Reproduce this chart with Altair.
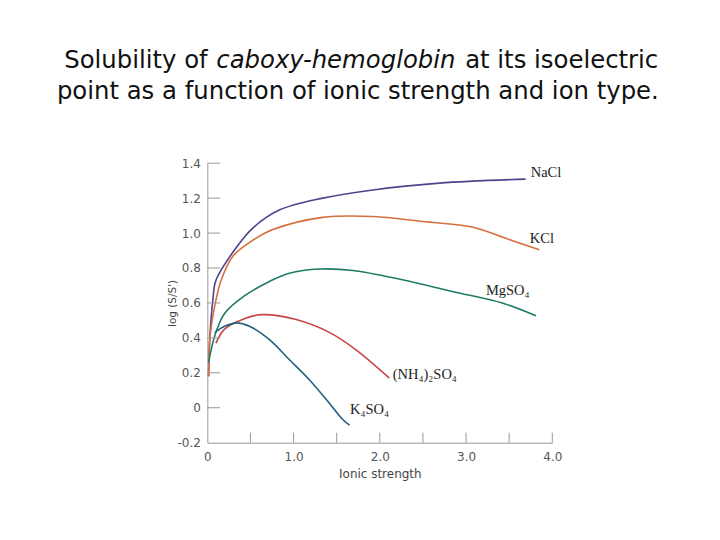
import altair as alt
import pandas as pd

# ---- data ----
nacl_x = [0.015, 0.03, 0.065, 0.10, 0.34, 0.53, 0.84, 1.34, 1.92, 2.69, 3.69]
nacl_y = [0.18, 0.41, 0.62, 0.73, 0.92, 1.03, 1.133, 1.20, 1.247, 1.286, 1.309]

kcl_x = [0.015, 0.03, 0.085, 0.16, 0.30, 0.50, 0.76, 1.34, 1.92, 2.50, 3.07, 3.46, 3.85]
kcl_y = [0.18, 0.40, 0.58, 0.73, 0.87, 0.95, 1.02, 1.09, 1.095, 1.066, 1.035, 0.97, 0.905]

mgso4_x = [0.015, 0.085, 0.20, 0.43, 0.72, 0.95, 1.30, 1.69, 2.26, 2.84, 3.42, 3.81]
mgso4_y = [0.26, 0.41, 0.54, 0.64, 0.723, 0.77, 0.794, 0.786, 0.733, 0.666, 0.60, 0.527]

nh4_x = [0.10, 0.20, 0.43, 0.64, 1.03, 1.42, 1.72, 2.11]
nh4_y = [0.37, 0.45, 0.51, 0.533, 0.505, 0.43, 0.333, 0.17]

k4so4_x = [0.085, 0.20, 0.34, 0.49, 0.72, 0.95, 1.18, 1.41, 1.57, 1.65]
k4so4_y = [0.43, 0.466, 0.486, 0.466, 0.39, 0.276, 0.162, 0.029, -0.067, -0.10]

series_names = ["NaCl", "KCl", "MgSO4", "NH4", "K4SO4"]
series_labels = ["NaCl", "KCl", "MgSO₄", "(NH₄)₂SO₄", "K₄SO₄"]
series_colors = ["#55408c", "#d6703c", "#1e7b67", "#c94545", "#23607f"]
label_x = [3.75, 3.74, 3.23, 2.15, 1.655]
label_y = [1.343, 0.966, 0.666, 0.19, -0.014]

x_tick_marks = [0.5, 1.0, 1.5, 2.0, 2.5, 3.0, 3.5, 4.0]
x_label_values = [0, 1, 2, 3, 4]
y_tick_values = [-0.2, 0, 0.2, 0.4, 0.6, 0.8, 1.0, 1.2, 1.4]

# ---- build tables ----
rows = []
for name, xs, ys in zip(series_names,
                        [nacl_x, kcl_x, mgso4_x, nh4_x, k4so4_x],
                        [nacl_y, kcl_y, mgso4_y, nh4_y, k4so4_y]):
    for i, (a, b) in enumerate(zip(xs, ys)):
        rows.append({"series": name, "x": a, "y": b, "order": i})
df = pd.DataFrame(rows)
lab = pd.DataFrame({"series": series_names, "label": series_labels,
                    "x": label_x, "y": label_y})
xt = pd.DataFrame({"x": x_tick_marks})
yt = pd.DataFrame({"y": [v for v in y_tick_values if v > -0.2]})
one = pd.DataFrame({"a": [0]})

W, H = 345.6, 280
xscale = alt.Scale(domain=[0, 4], nice=False, zero=False)
yscale = alt.Scale(domain=[-0.2, 1.4], nice=False, zero=False)
cscale = alt.Scale(domain=series_names, range=series_colors)

x_axis = alt.Axis(values=x_label_values, title="Ionic strength",
                  labelExpr="datum.value == 0 ? '0' : format(datum.value, '.1f')",
                  ticks=False, grid=False, labelPadding=9, titlePadding=6,
                  labelFont="DejaVu Sans", labelFontSize=12, labelColor="#555555",
                  titleFont="DejaVu Sans", titleFontSize=12, titleFontWeight="normal",
                  titleColor="#444444", domainColor="#999999", labelFlush=False,
                  labelOverlap=False)
y_axis = alt.Axis(values=y_tick_values, title="log (S/S')",
                  labelExpr="abs(datum.value) < 1e-9 ? '0' : (datum.value < 0 ? '-' + format(abs(datum.value), '.1f') : format(datum.value, '.1f'))",
                  ticks=False, grid=False, labelPadding=7,
                  titleX=-35, titleY=H / 2, titleAngle=270, titleAlign="center",
                  titleBaseline="middle",
                  labelFont="DejaVu Sans", labelFontSize=12, labelColor="#555555",
                  titleFont="DejaVu Sans", titleFontSize=10.5, titleFontWeight="normal",
                  titleColor="#444444", domainColor="#999999", labelFlush=False,
                  labelOverlap=False)

lines = alt.Chart(df).mark_line(interpolate="catmull-rom", strokeWidth=1.6).encode(
    x=alt.X("x:Q", scale=xscale, axis=x_axis),
    y=alt.Y("y:Q", scale=yscale, axis=y_axis),
    color=alt.Color("series:N", scale=cscale, legend=None),
    order="order:Q",
)

labels = alt.Chart(lab).mark_text(align="left", baseline="middle", font="Liberation Serif",
                                  fontSize=14.5, color="#222222").encode(
    x=alt.X("x:Q", scale=xscale, axis=x_axis), y=alt.Y("y:Q", scale=yscale, axis=y_axis),
    text="label:N")

xticks = alt.Chart(xt).mark_rule(color="#999999", strokeWidth=1).encode(
    x=alt.X("x:Q", scale=xscale, axis=x_axis), y=alt.value(H), y2=alt.value(H - 10))
yticks = alt.Chart(yt).mark_rule(color="#999999", strokeWidth=1).encode(
    y=alt.Y("y:Q", scale=yscale, axis=y_axis), x=alt.value(0), x2=alt.value(13))

tfont = "DejaVu Sans"
tsize = 24.4
t1 = alt.Chart(one).mark_text(text="Solubility of", align="right", baseline="alphabetic",
                              font=tfont, fontSize=tsize, color="#111111").encode(
    x=alt.value(0.3), y=alt.value(-95.3))
t2 = alt.Chart(one).mark_text(text="caboxy-hemoglobin", align="center", baseline="alphabetic",
                              font=tfont, fontSize=tsize, fontStyle="italic", color="#111111").encode(
    x=alt.value(128.8), y=alt.value(-95.3))
t3 = alt.Chart(one).mark_text(text="at its isoelectric", align="left", baseline="alphabetic",
                              font=tfont, fontSize=tsize, color="#111111").encode(
    x=alt.value(258.3), y=alt.value(-95.3))
t4 = alt.Chart(one).mark_text(text="point as a function of ionic strength and ion type.",
                              align="center", baseline="alphabetic",
                              font=tfont, fontSize=tsize, color="#111111").encode(
    x=alt.value(150.8), y=alt.value(-64.5))

chart = alt.layer(lines, xticks, yticks, labels, t1, t2, t3, t4).properties(
    width=W, height=H,
    autosize=alt.AutoSizeParams(type="none"),
    padding={"left": 199.7, "top": 155, "right": 160, "bottom": 90},
    background="white",
).configure_view(stroke=None)

chart.save("out.html", embed_options={"renderer": "svg", "actions": False})
